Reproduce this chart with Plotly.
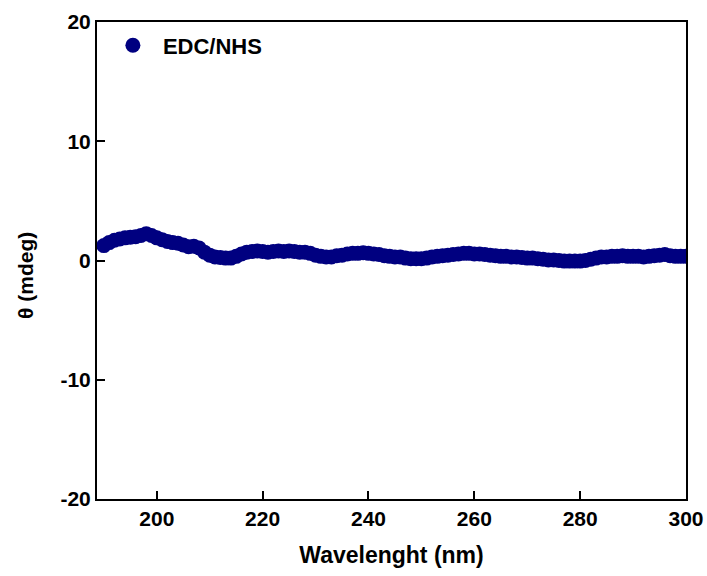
import plotly.graph_objects as go

wavelength = list(range(190, 301))
theta = [
    1.25, 1.5, 1.7, 1.8, 1.9, 1.95, 2.0, 2.1, 2.25, 2.1,
    1.9, 1.75, 1.6, 1.5, 1.45, 1.3, 1.15, 1.2, 1.05, 0.7,
    0.45, 0.3, 0.25, 0.2, 0.2, 0.35, 0.55, 0.7, 0.75, 0.8,
    0.75, 0.7, 0.75, 0.8, 0.75, 0.8, 0.75, 0.7, 0.7, 0.6,
    0.45, 0.35, 0.3, 0.3, 0.4, 0.45, 0.55, 0.6, 0.6, 0.65,
    0.6, 0.55, 0.5, 0.4, 0.35, 0.3, 0.3, 0.2, 0.15, 0.15,
    0.15, 0.2, 0.3, 0.35, 0.4, 0.45, 0.5, 0.55, 0.6, 0.6,
    0.55, 0.55, 0.5, 0.45, 0.4, 0.35, 0.35, 0.3, 0.3, 0.25,
    0.2, 0.2, 0.15, 0.1, 0.05, 0.05, 0.0, -0.05, -0.05, -0.05,
    -0.05, 0.0, 0.1, 0.2, 0.3, 0.3, 0.35, 0.35, 0.4, 0.35,
    0.35, 0.35, 0.3, 0.35, 0.4, 0.45, 0.5, 0.4, 0.35, 0.35,
    0.35,
]
series_name = "EDC/NHS"
x_ticks = [200, 220, 240, 260, 280, 300]
y_ticks = [-20, -10, 0, 10, 20]
y_tick_text = ["-20", "-10", "0", "10", "20"]

FONT = "Arial, Liberation Sans, sans-serif"

fig = go.Figure()
fig.add_trace(go.Scatter(
    x=wavelength[::-1], y=theta[::-1], mode="markers", name=series_name,
    marker=dict(size=15, color="#000080", line=dict(width=0)),
))

tick_font = dict(family=FONT, size=21, color="black", weight="bold")
fig.update_layout(
    width=707, height=576,
    margin=dict(l=97, r=21, t=22, b=77, autoexpand=False),
    plot_bgcolor="white", paper_bgcolor="white",
    showlegend=True,
    legend=dict(x=0.01, y=0.995, xanchor="left", yanchor="top", itemwidth=50,
                bgcolor="rgba(0,0,0,0)",
                font=dict(family=FONT, size=22, color="black", weight="bold")),
    xaxis=dict(range=[188.7, 300], tickvals=x_ticks, ticks="inside", ticklen=8, tickwidth=2,
               tickcolor="black", showline=True, linecolor="black", linewidth=2, mirror=True,
               showgrid=False, zeroline=False, tickfont=tick_font, automargin=False,
               title=dict(text="Wavelenght (nm)", font=dict(family=FONT, size=23, color="black", weight="bold"),
                          standoff=18)),
    yaxis=dict(range=[-20, 20], tickvals=y_ticks, ticktext=y_tick_text, ticks="inside", ticklen=8, tickwidth=2,
               tickcolor="black", showline=True, linecolor="black", linewidth=2, mirror=True,
               showgrid=False, zeroline=False, tickfont=tick_font, automargin=False),
    annotations=[dict(text="θ (mdeg)", textangle=-90, xref="paper", yref="paper",
                      x=-(97 - 25) / 588, y=(499 - 275) / 477, xanchor="center", yanchor="middle",
                      showarrow=False, font=dict(family=FONT, size=21, color="black", weight="bold"))],
)
fig.write_html("out.html")
